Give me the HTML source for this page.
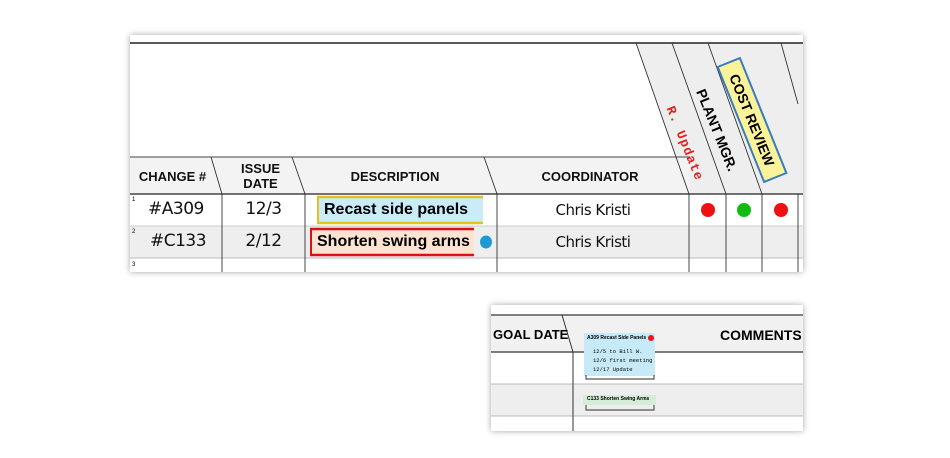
<!DOCTYPE html>
<html><head><style>
body{margin:0;width:950px;height:458px;background:#fff;position:relative;overflow:hidden;font-family:"Liberation Sans",sans-serif}
.a{position:absolute}
.h{font-weight:bold;font-size:13px;color:#111;text-align:center}
.hand{font-family:"DejaVu Sans",sans-serif;font-size:17px;color:#111;letter-spacing:-0.5px}
</style></head><body>
<div class="a" style="left:130px;top:35px;width:673px;height:237px;box-shadow:0 0 6px rgba(0,0,0,.35);background:#fff"></div>
<div class="a" style="left:491px;top:305px;width:312px;height:126px;box-shadow:0 0 6px rgba(0,0,0,.35);background:#fff"></div>
<svg class="a" style="left:0;top:0" width="950" height="458">
<polygon points="636,43 803,43 803,194 689,194" fill="#eee"/>
<rect x="130" y="157" width="560" height="37" fill="#f3f3f3"/>
<rect x="130" y="226" width="673" height="32" fill="#eee"/>
<line x1="130" y1="43" x2="803" y2="43" stroke="#222" stroke-width="1.5"/>
<line x1="130" y1="157" x2="690" y2="157" stroke="#444"/>
<line x1="130" y1="194" x2="803" y2="194" stroke="#222" stroke-width="1.3"/>
<line x1="130" y1="226" x2="803" y2="226" stroke="#ccc"/>
<line x1="130" y1="258" x2="803" y2="258" stroke="#bbb"/>
<g stroke="#333" stroke-width="0.9">
<line x1="211" y1="157" x2="222" y2="194"/><line x1="222" y1="194" x2="222" y2="272"/>
<line x1="292" y1="157" x2="305" y2="194"/><line x1="305" y1="194" x2="305" y2="272"/>
<line x1="484" y1="157" x2="497" y2="194"/><line x1="497" y1="194" x2="497" y2="272"/>
<line x1="636" y1="43" x2="689" y2="194"/><line x1="689" y1="194" x2="689" y2="272"/>
<line x1="672" y1="43" x2="726" y2="194"/><line x1="726" y1="194" x2="726" y2="272"/>
<line x1="708" y1="43" x2="762" y2="194"/><line x1="762" y1="194" x2="762" y2="272"/>
<line x1="781" y1="43" x2="798" y2="104"/><line x1="798" y1="194" x2="798" y2="272"/>
</g>
<g transform="translate(752,120) rotate(68)">
<rect x="-62" y="-12" width="124" height="24" fill="#fbf39a" stroke="#3a7bc0" stroke-width="2"/>
<text x="0" y="5" text-anchor="middle" font-weight="bold" font-size="14" font-family="Liberation Sans">COST REVIEW</text>
</g>
<g transform="translate(717,130) rotate(68)"><text x="0" y="5" text-anchor="middle" font-weight="bold" font-size="14" font-family="Liberation Sans">PLANT MGR.</text></g>
<g transform="translate(686,143) rotate(68)"><text x="0" y="5" text-anchor="middle" font-size="13" fill="#d22" font-family="Liberation Mono" font-weight="bold" letter-spacing="1">R. Update</text></g>
<rect x="317" y="196" width="166" height="28" fill="#c9ecf8"/>
<line x1="317" y1="197" x2="483" y2="197" stroke="#e2c21c" stroke-width="2.5"/>
<line x1="317" y1="223" x2="483" y2="223" stroke="#e2c21c" stroke-width="2.5"/>
<line x1="318" y1="196" x2="318" y2="224" stroke="#e2c21c" stroke-width="2"/>
<rect x="310" y="228" width="164" height="28" fill="#fce3d2"/>
<line x1="310" y1="229" x2="474" y2="229" stroke="#d11" stroke-width="2.5"/>
<line x1="310" y1="255" x2="474" y2="255" stroke="#d11" stroke-width="2.5"/>
<line x1="311" y1="228" x2="311" y2="256" stroke="#d11" stroke-width="2"/>
<ellipse cx="486" cy="242" rx="6" ry="6.5" fill="#1d9ad6"/>
<circle cx="708" cy="210" r="7" fill="#e11"/><circle cx="744" cy="210" r="7" fill="#1b1"/><circle cx="781" cy="210" r="7" fill="#e11"/>
<rect x="491" y="316" width="312" height="36" fill="#f1f1f1"/>
<rect x="491" y="384" width="312" height="32" fill="#eee"/>
<line x1="491" y1="315" x2="803" y2="315" stroke="#333" stroke-width="1.3"/>
<line x1="491" y1="352" x2="803" y2="352" stroke="#333" stroke-width="1.3"/>
<line x1="491" y1="384" x2="803" y2="384" stroke="#bbb"/>
<line x1="491" y1="416" x2="803" y2="416" stroke="#bbb"/>
<line x1="562" y1="315" x2="573" y2="352" stroke="#333"/><line x1="573" y1="352" x2="573" y2="431" stroke="#333"/>
<rect x="584" y="333" width="71" height="43" fill="#c6eaf8"/>
<path d="M586 375 v4 h68 v-4" fill="none" stroke="#555" stroke-width="1.2"/>
<circle cx="651" cy="338" r="3" fill="#e11"/>
<rect x="583" y="395" width="73" height="10" fill="#d4ecd8"/>
<path d="M586 405 v5 h68 v-5" fill="none" stroke="#555" stroke-width="1.2"/>
</svg>
<div class="a h" style="left:130px;top:169px;width:85px">CHANGE #</div>
<div class="a h" style="left:228px;top:161px;width:65px;line-height:15px">ISSUE<br>DATE</div>
<div class="a h" style="left:300px;top:169px;width:190px">DESCRIPTION</div>
<div class="a h" style="left:495px;top:169px;width:190px">COORDINATOR</div>
<div class="a" style="left:132px;top:197px;font-size:6px">1</div>
<div class="a" style="left:132px;top:229px;font-size:6px">2</div>
<div class="a" style="left:132px;top:262px;font-size:6px">3</div>
<div class="a hand" style="left:148px;top:199px">#A309</div>
<div class="a hand" style="left:150px;top:231px">#C133</div>
<div class="a hand" style="left:222px;top:199px;width:83px;text-align:center">12/3</div>
<div class="a hand" style="left:222px;top:231px;width:83px;text-align:center">2/12</div>
<div class="a" style="left:324px;top:201px;font-size:16px;font-weight:bold">Recast side panels</div>
<div class="a" style="left:317px;top:233px;font-size:16px;font-weight:bold">Shorten swing arms</div>
<div class="a hand" style="left:497px;top:201px;width:192px;text-align:center;font-size:15px">Chris Kristi</div>
<div class="a hand" style="left:497px;top:233px;width:192px;text-align:center;font-size:15px">Chris Kristi</div>
<div class="a" style="left:493px;top:327px;font-size:13px;font-weight:bold">GOAL DATE</div>
<div class="a" style="left:720px;top:327px;font-size:14px;font-weight:bold">COMMENTS</div>
<div class="a" style="left:587px;top:335px;font-size:5px;font-weight:bold">A309 Recast Side Panels</div>
<div class="a" style="left:593px;top:347px;font-size:5.5px;font-family:'Liberation Mono',monospace;line-height:9px">12/5 to Bill W.<br>12/6 first meeting<br>12/17 Update</div>
<div class="a" style="left:587px;top:396px;font-size:5px;font-weight:bold">C133 Shorten Swing Arms</div>
</body></html>
